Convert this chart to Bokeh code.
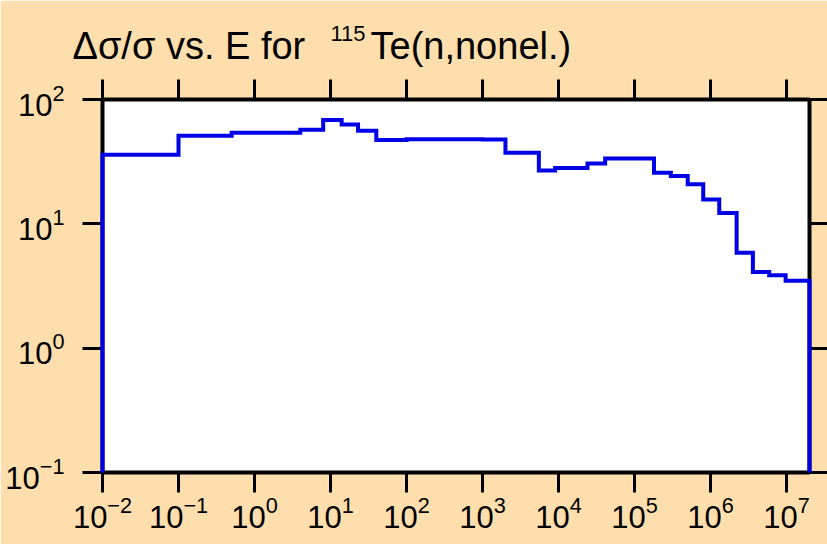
import numpy as np
from bokeh.plotting import figure
from bokeh.models import Range1d, LogAxis, FixedTicker, Label, CustomJSTickFormatter
from bokeh.embed import file_html
from bokeh.resources import INLINE

# ---- data ----
E_edges = [1e-2, 1e-1, 0.5, 4.0, 8.0, 14.0, 23.0, 40.0, 100.0, 300.0, 1.0e3, 2.0e3,
           5.5e3, 9.0e3, 2.4e4, 4.1e4, 1.8e5, 3.0e5, 5.0e5, 8.0e5, 1.3e6, 2.2e6,
           3.6e6, 5.9e6, 9.7e6, 2.0e7]
rel_unc = [36.0, 51.0, 54.0, 57.0, 68.5, 63.0, 56.0, 47.2, 47.8, 48.0, 47.6, 37.3,
           26.8, 28.1, 30.6, 33.6, 25.8, 24.3, 20.8, 15.7, 12.2, 5.85, 4.09, 3.85, 3.49]
y_floor = 0.1
x_ticks = [10.0 ** k for k in range(-2, 8)]
y_ticks = [10.0 ** k for k in range(-1, 3)]
title_main = "\u0394\u03c3/\u03c3 vs. E for "
title_sup = "115"
title_rest = "Te(n,nonel.)"

BG = "#FFDEAD"
FONT = "Liberation Sans"

W, H = 827, 544
BL, BR, BT, BB = 102, 18, 99, 72
x0, x1 = 1e-2, 2e7
y0, y1 = 0.1, 100.0

p = figure(width=W, height=H, x_axis_type="log", y_axis_type="log",
           x_range=Range1d(x0, x1), y_range=Range1d(y0, y1),
           output_backend="svg", toolbar_location=None,
           min_border_left=BL, min_border_right=BR, min_border_top=BT, min_border_bottom=BB)
p.background_fill_color = "white"
p.border_fill_color = BG
p.outline_line_color = "black"
p.outline_line_width = 4
p.xgrid.visible = False
p.ygrid.visible = False

def style_axis(ax, tick_out, standoff, show_labels=True, tick_in=0):
    ax.axis_line_color = None
    ax.major_tick_out = tick_out
    ax.major_tick_in = tick_in
    ax.major_tick_line_width = 3
    ax.major_tick_line_color = "black"
    ax.minor_tick_line_color = None
    ax.major_label_standoff = standoff
    ax.major_label_text_font = FONT
    ax.major_label_text_font_size = "31px"
    ax.major_label_text_color = "black"
    if not show_labels:
        ax.formatter = CustomJSTickFormatter(code="return ''")
        ax.major_label_text_font_size = "0px"

xax = p.xaxis[0]
yax = p.yaxis[0]
xax.ticker = FixedTicker(ticks=x_ticks)
yax.ticker = FixedTicker(ticks=y_ticks)
style_axis(xax, 20, 3)
style_axis(yax, 20, 18)

# top ticks drawn outward through a negative inner length so they take no layout room
top = LogAxis(ticker=FixedTicker(ticks=x_ticks))
style_axis(top, 0, 0, show_labels=False, tick_in=-20)
p.add_layout(top, "above")
right = LogAxis(ticker=FixedTicker(ticks=y_ticks))
style_axis(right, 18, 0, show_labels=False)
p.add_layout(right, "right")

# step outline built from the bin edges and values
xs = [E_edges[0]]
ys = [y_floor]
for i, v in enumerate(rel_unc):
    xs += [E_edges[i], E_edges[i + 1]]
    ys += [v, v]
xs.append(E_edges[-1])
ys.append(y_floor)
p.line(xs, ys, line_color="#0000E6", line_width=4, line_join="miter", level="overlay")

# title pieces (canvas pixel units, vertically centred)
for txt, x, y, fs in [(title_main, 72, 45, "38px"), (title_sup, 330, 33, "22px"),
                      (title_rest, 370, 45, "38px")]:
    p.add_layout(Label(x=x, y=y, x_units="canvas", y_units="canvas", text=txt,
                       text_font=FONT, text_font_size=fs, text_baseline="middle",
                       text_color="black"), "above")

html = file_html(p, INLINE)
html = html.replace("<body>", '<body style="background-color:%s;">' % BG, 1)
open("out.html", "w").write(html)
